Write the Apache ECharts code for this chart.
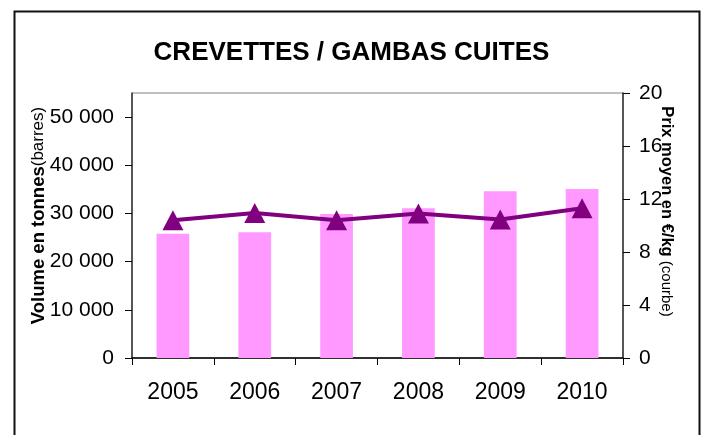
<!DOCTYPE html>
<html>
<head>
<meta charset="utf-8">
<script src="https://cdn.jsdelivr.net/npm/echarts@6/dist/echarts.min.js"></script>
<style>
  html, body { margin: 0; padding: 0; background: #fff; }
  #chart { width: 703px; height: 435px; }
</style>
</head>
<body>
<div id="chart"></div>
<script>
// data
const years = ['2005', '2006', '2007', '2008', '2009', '2010'];
const volumes = [25800, 26100, 29900, 31100, 34600, 35100];   // tonnes (barres)
const prices = [10.4, 10.95, 10.4, 10.9, 10.45, 11.3];        // €/kg (courbe)
const volumeTicks = [0, 10000, 20000, 30000, 40000, 50000];

const FONT = '"Liberation Sans", Arial, sans-serif';

function spaced(v) {
  return String(v).replace(/\B(?=(\d{3})+(?!\d))/g, ' ');
}

const chart = echarts.init(document.getElementById('chart'), null, { renderer: 'canvas' });

let option = {
  animation: false,
  backgroundColor: '#fff',
  title: {
    text: 'CREVETTES / GAMBAS CUITES',
    left: 'center',
    top: 35,
    textStyle: { fontFamily: FONT, fontSize: 26, fontWeight: 'bold', color: '#000' }
  },
  graphic: [
    {
      type: 'rect',
      left: 12, top: 9,
      shape: { width: 685, height: 500 },
      style: { fill: 'none', stroke: '#111', lineWidth: 2 },
      silent: true
    }
  ],
  grid: {
    left: 132, right: 80, top: 93, bottom: 77,
    show: true,
    borderColor: '#808080',
    borderWidth: 1
  },
  xAxis: {
    type: 'category',
    data: years,
    boundaryGap: true,
    axisLine: { lineStyle: { color: '#000', width: 1.5 } },
    axisTick: { show: true, length: 7, interval: 0, lineStyle: { color: '#000' } },
    axisLabel: { fontFamily: FONT, fontSize: 23, color: '#000', margin: 23, interval: 0 }
  },
  yAxis: [
    {
      type: 'value',
      min: 0, max: 55000, interval: 10000,
      position: 'left',
      splitLine: { show: false },
      axisLine: { show: true, lineStyle: { color: '#333', width: 1.5 } },
      axisTick: { show: true, length: 7, customValues: volumeTicks, lineStyle: { color: '#000' } },
      axisLabel: {
        fontFamily: FONT, fontSize: 21, color: '#000', margin: 18,
        customValues: volumeTicks,
        formatter: spaced
      },
      name: '{b|Volume en tonnes}{r|(barres)}',
      nameLocation: 'middle',
      nameGap: 84,
      nameMoveOverlap: false,
      nameTextStyle: {
        padding: [0, 0, 0, 20],
        rich: {
          b: { fontFamily: FONT, fontSize: 18.5, fontWeight: 'bold', color: '#000' },
          r: { fontFamily: FONT, fontSize: 17, color: '#000' }
        }
      }
    },
    {
      type: 'value',
      min: 0, max: 20, interval: 4,
      position: 'right',
      splitLine: { show: false },
      axisLine: { show: true, lineStyle: { color: '#333', width: 1.5 } },
      axisTick: { show: true, length: 7, lineStyle: { color: '#000' } },
      axisLabel: { fontFamily: FONT, fontSize: 21, color: '#000', margin: 16 },
      name: '{b|Prix moyen en €/kg}{r| (courbe)}',
      nameLocation: 'middle',
      nameRotate: -90,
      nameGap: 35,
      nameMoveOverlap: false,
      nameTextStyle: {
        padding: [0, 28, 0, 0],
        rich: {
          b: { fontFamily: FONT, fontSize: 16.5, fontWeight: 'bold', color: '#000' },
          r: { fontFamily: FONT, fontSize: 15, color: '#000' }
        }
      }
    }
  ],
  series: [
    {
      name: 'Volume',
      type: 'bar',
      yAxisIndex: 0,
      data: volumes,
      barWidth: '40%',
      itemStyle: { color: '#FF99FF' }
    },
    {
      name: 'Prix',
      type: 'line',
      yAxisIndex: 1,
      data: prices,
      symbol: 'triangle',
      symbolSize: [21, 20],
      lineStyle: { color: '#800080', width: 4 },
      itemStyle: { color: '#800080' }
    }
  ]
};

chart.setOption(option);
</script>
</body>
</html>
